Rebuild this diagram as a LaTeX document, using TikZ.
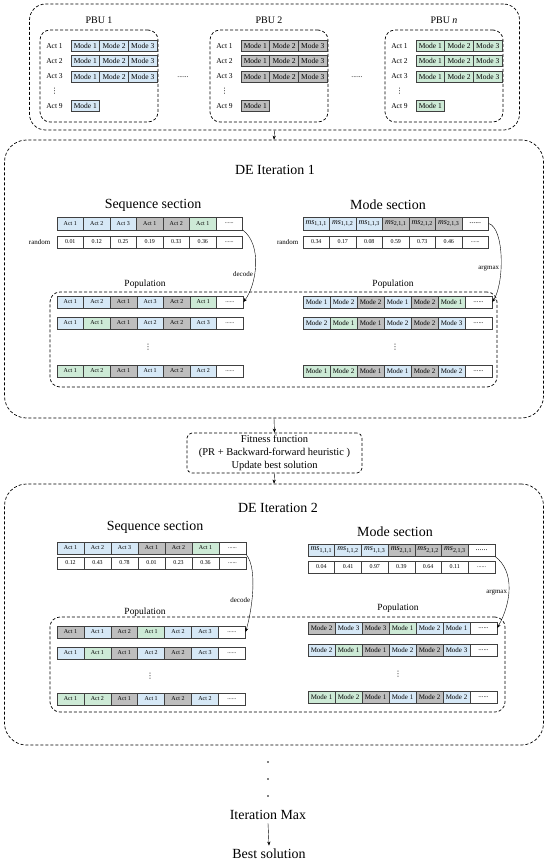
\documentclass[tikz,border=0pt]{standalone}
\usepackage{fontspec}
\setmainfont{Liberation Serif}
\newfontfamily\symfont{DejaVu Sans}
\usetikzlibrary{arrows.meta}
\definecolor{cblue}{RGB}{214,232,246}
\definecolor{cgray}{RGB}{190,190,190}
\definecolor{cgreen}{RGB}{205,234,214}
\newcommand{\fs}[1]{\fontsize{#1}{#1}\selectfont}
\newcommand{\msub}[3]{\textit{ms}\textsubscript{#1,#2,#3}}
\newcommand{\moredots}{......}
\newcommand{\vdotsym}{{\symfont ⋮}}
% one row of cells: name, left x, y, cell width, style, colour/text list
\newcommand{\cellrow}[6]{%
  \foreach \col/\txt [count=\i] in {#6}
    \node[#5, fill=\col, minimum width=#4bp] (#1-\i) at ({#2+(\i-0.5)*#4}, #3) {\txt};%
}

\begin{document}
\begin{tikzpicture}[x=1bp, y=-1bp, > = {Stealth[length=4bp,width=3.2bp]},
    bigbox/.style = {draw, line width=0.7bp, dash pattern=on 3bp off 2bp, rounded corners=22bp, inner sep=0pt},
    pbubox/.style = {bigbox, rounded corners=10bp, minimum width=118bp, minimum height=92bp},
    pcell/.style = {draw=black!75, line width=0.6bp, inner sep=0pt, minimum width=28.7bp, minimum height=11bp, font=\fs{7.5}},
    scell/.style = {draw=black!75, line width=0.5bp, inner sep=0pt, minimum height=12.5bp, font=\fs{6}},
    mcell/.style = {scell, font=\fs{7}},
    actlab/.style = {font=\fs{7.5}, inner sep=1bp},
    ttl/.style = {font=\fs{14}},
    poplab/.style = {font=\fs{9.5}},
    notelab/.style = {font=\fs{7}, inner sep=1.5bp}]
    \useasboundingbox (0,0) rectangle (550,862);

    % PBUs
    \node[bigbox, rounded corners=16bp, minimum width=490bp, minimum height=126bp] (pbus) at (274.5,67) {};
    \foreach \bx/\lab/\cl [count=\k] in {40/1/cblue, 210/2/cgray, 385/\textit{n}/cgreen} {
        \node[pbubox] (pbu\k) at (\bx+59,76) {};
        \node[font=\fs{10}] (pbulab\k) at (\bx+59,20) {PBU \lab};
        \foreach \r/\y in {1/46, 2/61, 3/76.5} {
            \node[actlab] (act\k-\r) at (\bx+14.5,\y) {Act \r};
            \foreach \m in {1,2,3}
                \node[pcell, fill=\cl] (md\k-\r-\m) at ({\bx+31+(\m-0.5)*28.7},\y) {Mode \m};
        }
        \node[actlab] (vd\k) at (\bx+14.5,91) {\vdotsym};
        \node[actlab] (act\k-9) at (\bx+14.5,106) {Act 9};
        \node[pcell, fill=\cl] (md\k-9-1) at (\bx+45.35,106) {Mode 1};
    }
    \node[actlab] (gap1) at (183,77) {\moredots};
    \node[actlab] (gap2) at (357,77) {\moredots};

    % iteration 1
    \node[bigbox, minimum width=539bp, minimum height=278bp] (de1) at (274,279) {};
    \node[ttl] (de1t) at (275,170) {DE Iteration 1};
    \node[ttl] (seq1) at (153,205) {Sequence section};
    \node[ttl] (mod1) at (388,205) {Mode section};
    \cellrow{sq1}{57}{223.5}{26.5}{scell}{cblue/Act 1, cblue/Act 2, cblue/Act 3, cgray/Act 1, cgray/Act 2, cgreen/Act 1, white/\moredots}
    \cellrow{rs1}{57}{242}{26.5}{scell}{white/0.01, white/0.12, white/0.25, white/0.19, white/0.33, white/0.36, white/\moredots}
    \cellrow{ms1}{303}{223.5}{26.5}{mcell, font=\fs{8}}{cblue/\msub111, cblue/\msub112, cblue/\msub113, cgray/\msub211, cgray/\msub212, cgray/\msub213, white/\moredots}
    \cellrow{rm1}{303}{242}{26.5}{scell}{white/0.34, white/0.17, white/0.08, white/0.59, white/0.73, white/0.46, white/\moredots}
    \node[notelab, anchor=east] (rl1) at (52,242) {random};
    \node[notelab, anchor=east] (rl2) at (300,242) {random};

    \node[bigbox, rounded corners=10bp, minimum width=447bp, minimum height=95bp] (pop1) at (273.5,339.5) {};
    \node[poplab] (pl1) at (145,284) {Population};
    \node[poplab] (pl2) at (393,284) {Population};
    \cellrow{ps1a}{57}{302}{26.6}{scell}{cblue/Act 1, cblue/Act 2, cgray/Act 1, cblue/Act 3, cgray/Act 2, cgreen/Act 1, white/\moredots}
    \cellrow{ps1b}{57}{323}{26.6}{scell}{cblue/Act 1, cgreen/Act 1, cgray/Act 1, cblue/Act 2, cgray/Act 2, cblue/Act 3, white/\moredots}
    \cellrow{ps1c}{57}{371}{26.6}{scell}{cgreen/Act 1, cgreen/Act 2, cgray/Act 1, cblue/Act 1, cgray/Act 2, cblue/Act 2, white/\moredots}
    \cellrow{pm1a}{303}{302}{27}{mcell}{cblue/Mode 1, cblue/Mode 2, cgray/Mode 2, cblue/Mode 1, cgray/Mode 2, cgreen/Mode 1, white/\moredots}
    \cellrow{pm1b}{303}{323}{27}{mcell}{cblue/Mode 2, cgreen/Mode 1, cgray/Mode 1, cblue/Mode 2, cgray/Mode 2, cblue/Mode 3, white/\moredots}
    \cellrow{pm1c}{303}{371}{27}{mcell}{cgreen/Mode 1, cgreen/Mode 2, cgray/Mode 1, cblue/Mode 1, cgray/Mode 2, cblue/Mode 2, white/\moredots}
    \node[actlab] (pv1) at (148,347) {\vdotsym};
    \node[actlab] (pv2) at (395,347) {\vdotsym};

    \draw[->] (sq1-7.south east) .. controls +(20,15) and +(13,-17) .. (ps1a-7.east)
        node[pos=0.6, left, notelab] {decode};
    \draw[->] (ms1-7.east) .. controls +(16,5) and +(12,-18) .. (pm1a-7.east)
        node[pos=0.6, left, notelab] {argmax};

    % fitness
    \node[draw, line width=0.7bp, dash pattern=on 3bp off 2bp, rounded corners=5bp, minimum width=175bp, minimum height=40bp, inner sep=0pt,
        align=center, font=\fontsize{10.5}{12.8}\selectfont] (fit) at (274.5,453)
        {Fitness function\\(PR + Backward-forward heuristic )\\Update best solution};

    % iteration 2
    \node[bigbox, minimum width=539bp, minimum height=261bp] (de2) at (274,614.5) {};
    \node[ttl] (de2t) at (278,508) {DE Iteration 2};
    \node[ttl] (seq2) at (155,527) {Sequence section};
    \node[ttl] (mod2) at (395,532) {Mode section};
    \cellrow{sq2}{57}{548}{27}{scell}{cblue/Act 1, cblue/Act 2, cblue/Act 3, cgray/Act 1, cgray/Act 2, cgreen/Act 1, white/\moredots}
    \cellrow{rs2}{57}{563}{27}{scell}{white/0.12, white/0.43, white/0.78, white/0.01, white/0.23, white/0.36, white/\moredots}
    \cellrow{ms2}{308}{550}{26.7}{mcell, font=\fs{8}}{cblue/\msub111, cblue/\msub112, cblue/\msub113, cgray/\msub211, cgray/\msub212, cgray/\msub213, white/\moredots}
    \cellrow{rm2}{308}{567}{26.7}{scell}{white/0.04, white/0.41, white/0.97, white/0.39, white/0.64, white/0.11, white/\moredots}

    \node[bigbox, rounded corners=10bp, minimum width=455bp, minimum height=95bp] (pop2) at (277.5,664.5) {};
    \node[poplab] (pl3) at (145,612) {Population};
    \node[poplab] (pl4) at (398,608) {Population};
    \cellrow{ps2a}{57}{632}{26.9}{scell}{cgray/Act 1, cblue/Act 1, cgray/Act 2, cgreen/Act 1, cblue/Act 2, cblue/Act 3, white/\moredots}
    \cellrow{ps2b}{57}{653}{26.9}{scell}{cblue/Act 1, cgreen/Act 1, cgray/Act 1, cblue/Act 2, cgray/Act 2, cblue/Act 3, white/\moredots}
    \cellrow{ps2c}{57}{699}{26.9}{scell}{cgreen/Act 1, cgreen/Act 2, cgray/Act 1, cblue/Act 1, cgray/Act 2, cblue/Act 2, white/\moredots}
    \cellrow{pm2a}{308}{628}{27}{mcell}{cgray/Mode 2, cblue/Mode 3, cgray/Mode 3, cgreen/Mode 1, cblue/Mode 2, cblue/Mode 1, white/\moredots}
    \cellrow{pm2b}{308}{650}{27}{mcell}{cblue/Mode 2, cgreen/Mode 1, cgray/Mode 1, cblue/Mode 2, cgray/Mode 2, cblue/Mode 3, white/\moredots}
    \cellrow{pm2c}{308}{697}{27}{mcell}{cgreen/Mode 1, cgreen/Mode 2, cgray/Mode 1, cblue/Mode 1, cgray/Mode 2, cblue/Mode 2, white/\moredots}
    \node[actlab] (pv3) at (150,676) {\vdotsym};
    \node[actlab] (pv4) at (398,674) {\vdotsym};

    \draw[->] (sq2-7.south east) .. controls +(12,15) and +(6,-20) .. (ps2a-7.east)
        node[pos=0.6, left, notelab] {decode};
    \draw[->] (ms2-7.south east) .. controls +(20,15) and +(14,-25) .. (pm2a-7.east)
        node[pos=0.55, left, notelab] {argmax};

    % flow
    \draw[->] (pbus.south) -- (de1.north);
    \draw[->] (de1.south) -- (fit.north);
    \draw[->] (fit.south) -- (de2.north);

    % end
    \foreach \y in {762,779,796}
        \fill (268,\y) circle (0.9bp);
    \node[ttl] (itmax) at (268,815) {Iteration Max};
    \node[ttl] (best) at (269,854) {Best solution};
    \draw[->] (itmax.south) -- (best.north);

\end{tikzpicture}
\end{document}
